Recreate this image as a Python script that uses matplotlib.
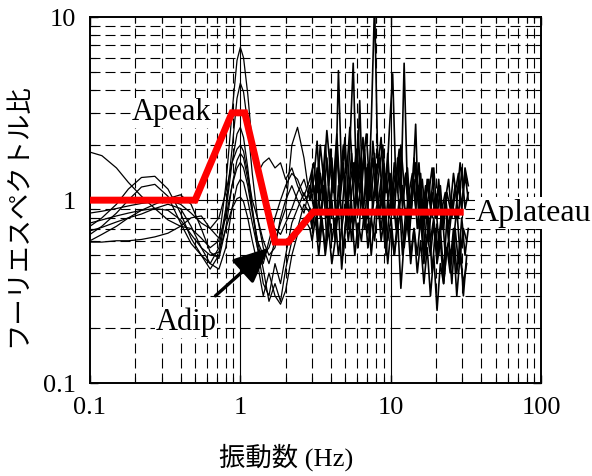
import numpy as np
import matplotlib
matplotlib.use("Agg")
import matplotlib.pyplot as plt
from matplotlib.ticker import FixedLocator, NullFormatter

plt.rcParams.update({
    "font.family": ["Liberation Serif", "Noto Sans CJK JP"],
    "font.size": 16,
})

# ── data ─────────────────────────────────────────────────────────────────────
freq_low = [0.10, 0.12, 0.15, 0.18, 0.22, 0.27, 0.33, 0.40, 0.47, 0.55,
            0.63, 0.72, 0.80, 0.88, 0.95, 1.00, 1.05, 1.12, 1.20, 1.30,
            1.42, 1.55, 1.70, 1.85, 2.00, 2.20, 2.40, 2.65, 2.90]
freq_high_a = [3.00, 3.16, 3.32, 3.49, 3.67, 3.86, 4.06, 4.27, 4.49, 4.72,
               4.96, 5.22, 5.49, 5.77, 6.07, 6.38, 6.71, 7.06, 7.42, 7.81,
               8.21, 8.63, 9.08, 9.55, 10.04, 10.56, 11.11, 11.68, 12.28, 12.92,
               13.58, 14.29, 15.02, 15.80, 16.62, 17.48, 18.38, 19.33, 20.33, 21.38,
               22.48, 23.65, 24.87, 26.15, 27.50, 28.93, 30.42, 32.0]
freq_high_b = [3.08, 3.24, 3.40, 3.58, 3.76, 3.96, 4.16, 4.38, 4.60, 4.84,
               5.09, 5.35, 5.63, 5.92, 6.22, 6.54, 6.88, 7.24, 7.61, 8.01,
               8.42, 8.85, 9.31, 9.79, 10.30, 10.83, 11.39, 11.98, 12.60, 13.25,
               13.93, 14.65, 15.41, 16.21, 17.05, 17.93, 18.85, 19.83, 20.85, 21.93,
               23.06, 24.25, 25.50, 26.82, 28.21, 29.67, 31.20, 32.8]

ratio_low = [
    [1.83, 1.75, 1.5, 1.25, 1.05, 0.9, 0.78, 0.72, 0.7, 0.62, 0.55, 0.6, 1.2, 3.0, 5.8,
     6.85, 6.0, 3.8, 2.0, 1.4, 1.6, 1.7, 1.5, 1.6, 1.3, 1.5, 1.2, 1.0, 1.1],
    [0.72, 0.8, 0.95, 1.15, 1.33, 1.35, 1.15, 0.85, 0.62, 0.5, 0.45, 0.55, 0.9, 1.9, 3.6,
     4.36, 3.9, 2.6, 1.4, 0.8, 0.55, 0.45, 0.6, 0.75, 0.9, 2.0, 2.5, 1.7, 1.0],
    [0.65, 0.72, 0.85, 1.0, 1.18, 1.22, 1.05, 0.75, 0.58, 0.5, 0.42, 0.5, 0.85, 1.6, 2.3,
     2.5, 2.2, 1.5, 0.9, 0.55, 0.35, 0.3, 0.45, 0.35, 0.5, 0.75, 0.9, 1.1, 0.9],
    [0.85, 0.87, 0.9, 0.93, 0.96, 0.98, 1.0, 0.95, 0.85, 0.75, 0.7, 0.8, 1.1, 1.6, 1.9,
     2.0, 1.85, 1.4, 1.0, 0.8, 0.6, 0.5, 0.55, 0.8, 1.0, 1.2, 1.0, 0.85, 1.2],
    [0.6, 0.65, 0.72, 0.8, 0.88, 0.95, 1.02, 1.07, 0.95, 0.7, 0.52, 0.48, 0.7, 1.2, 1.65,
     1.8, 1.7, 1.3, 0.9, 0.6, 0.42, 0.28, 0.35, 0.28, 0.42, 0.6, 0.7, 0.95, 0.85],
    [0.59, 0.59, 0.6, 0.6, 0.61, 0.63, 0.66, 0.72, 0.8, 0.82, 0.7, 0.62, 0.8, 1.2, 1.5,
     1.61, 1.5, 1.2, 0.85, 0.6, 0.5, 0.55, 0.7, 0.65, 0.75, 0.9, 1.1, 1.3, 1.0],
    [0.75, 0.78, 0.82, 0.85, 0.88, 0.9, 0.88, 0.78, 0.65, 0.55, 0.5, 0.52, 0.7, 0.9, 1.02,
     1.04, 0.98, 0.8, 0.6, 0.45, 0.3, 0.4, 0.3, 0.27, 0.32, 0.5, 0.65, 0.8, 0.7],
    [0.68, 0.71, 0.76, 0.8, 0.84, 0.9, 0.95, 0.9, 0.72, 0.55, 0.45, 0.42, 0.55, 0.9, 1.2,
     1.3, 1.25, 1.0, 0.75, 0.55, 0.45, 0.6, 0.8, 1.0, 1.2, 1.4, 1.3, 1.05, 1.3],
]
ratio_high = [
    [1.4, 0.9, 1.6, 1.1, 2.0, 1.2, 1.7, 0.9, 5.1, 1.3, 2.2, 1.0, 1.8, 0.8, 2.4, 1.1,
     1.9, 0.9, 2.6, 12.0, 1.5, 2.2, 1.0, 1.8, 0.9, 1.6, 1.1, 2.0, 1.2, 1.5, 0.8, 1.7,
     1.0, 1.4, 0.7, 1.3, 0.9, 1.5, 0.8, 1.2, 0.7, 1.1, 0.9, 1.4, 1.0, 1.6, 1.2, 1.3],
    [1.3, 2.1, 1.0, 1.5, 0.8, 1.9, 1.2, 2.3, 1.1, 1.6, 0.9, 2.0, 5.6, 1.2, 1.7, 0.8,
     1.5, 1.0, 2.1, 1.3, 0.8, 1.6, 1.1, 2.4, 4.9, 1.2, 1.8, 0.9, 1.4, 0.7, 1.3, 1.0,
     1.6, 0.8, 1.2, 0.6, 1.1, 0.8, 1.3, 0.7, 1.0, 0.6, 0.9, 1.2, 0.8, 1.5, 0.9, 1.1],
    [0.7, 1.1, 0.6, 0.9, 1.3, 0.7, 1.0, 0.6, 1.2, 0.8, 1.4, 0.7, 1.1, 1.6, 0.9, 1.3,
     0.7, 1.5, 1.0, 1.8, 0.9, 1.3, 0.6, 1.0, 1.4, 0.8, 1.7, 1.0, 5.6, 1.1, 0.8, 1.3,
     0.7, 1.0, 0.5, 0.9, 0.6, 0.8, 0.5, 0.7, 0.4, 0.8, 0.5, 0.6, 0.9, 0.5, 0.7, 0.6],
    [0.9, 1.5, 0.8, 1.2, 0.6, 1.0, 1.4, 0.8, 1.1, 0.5, 0.9, 1.3, 0.7, 1.0, 3.5, 0.9,
     1.2, 0.6, 1.0, 1.4, 0.8, 1.1, 0.5, 0.9, 1.2, 0.7, 1.0, 0.5, 0.9, 0.6, 1.1, 2.6,
     0.7, 0.9, 0.5, 0.8, 0.4, 0.7, 0.5, 0.9, 0.5, 0.6, 0.35, 0.7, 0.45, 0.8, 0.5, 0.7],
    [0.7, 0.9, 0.6, 0.8, 0.5, 0.7, 0.45, 0.6, 0.9, 0.42, 0.7, 1.0, 0.6, 0.9, 0.55, 1.1,
     0.7, 0.9, 0.5, 0.8, 1.0, 0.6, 0.8, 0.45, 0.7, 0.5, 0.8, 0.33, 0.6, 0.9, 0.5, 0.7,
     0.4, 0.6, 0.35, 0.55, 0.3, 0.5, 0.25, 0.45, 0.35, 0.55, 0.4, 0.6, 0.3, 0.5, 0.35, 0.45],
    [1.2, 0.8, 1.4, 1.0, 1.7, 0.9, 1.3, 1.9, 1.0, 1.5, 0.8, 1.2, 1.6, 1.0, 1.4, 2.2,
     1.1, 1.6, 0.9, 1.3, 1.7, 1.0, 1.4, 0.8, 1.1, 1.5, 0.9, 1.2, 0.8, 1.1, 1.4, 0.9,
     1.2, 0.7, 1.0, 1.3, 0.8, 1.0, 0.6, 0.9, 1.1, 0.7, 1.0, 0.8, 1.2, 0.9, 1.4, 1.0],
    [0.6, 0.8, 0.5, 0.75, 0.55, 0.9, 0.6, 0.8, 0.5, 0.7, 0.95, 0.6, 0.85, 0.5, 0.75, 0.6,
     0.9, 0.55, 0.8, 0.6, 0.95, 0.7, 1.0, 0.6, 0.8, 0.5, 0.7, 0.9, 0.55, 0.8, 0.45, 0.7,
     0.5, 0.8, 0.45, 0.65, 0.5, 0.75, 0.45, 0.6, 0.35, 0.55, 0.45, 0.7, 0.4, 0.6, 0.3, 0.5],
    [1.6, 1.1, 2.0, 1.3, 2.4, 1.5, 1.1, 1.8, 1.2, 2.0, 1.4, 2.5, 1.3, 1.9, 1.1, 1.6,
     2.3, 1.2, 1.7, 1.0, 1.5, 2.0, 1.1, 1.4, 0.9, 1.3, 1.9, 1.0, 1.4, 0.9, 1.2, 1.6,
     0.9, 1.3, 0.8, 1.1, 1.5, 0.8, 1.2, 0.7, 1.0, 1.3, 0.8, 1.1, 1.4, 0.9, 1.5, 1.2],
]

# simplified model (red)
model_f = [0.1, 0.5, 0.88, 1.07, 1.70, 2.08, 3.05, 29.0]
model_a = [1.0, 1.0, 3.0, 3.0, 0.59, 0.59, 0.86, 0.86]

# ── figure ───────────────────────────────────────────────────────────────────
fig = plt.figure(figsize=(5.92, 4.76), dpi=100)
ax = fig.add_axes([0.152, 0.195, 0.762, 0.769])
ax.set_xscale("log"); ax.set_yscale("log")
ax.set_xlim(0.1, 100); ax.set_ylim(0.1, 10)

# grid: dashed at minors, solid at majors
dash = (0, (9, 4.5))
for d in [0.1, 1, 10]:
    for k in range(2, 10):
        ax.axvline(d * k, color="black", lw=0.8, ls=dash, zorder=1)
for d in [0.1, 1]:
    for k in range(2, 10):
        ax.axhline(d * k, color="black", lw=0.8, ls=dash, zorder=1)
for v in [1, 10]:
    ax.axvline(v, color="black", lw=0.8, zorder=1)
ax.axhline(1, color="black", lw=0.8, zorder=1)

for i, (lo, hi) in enumerate(zip(ratio_low, ratio_high)):
    fh = freq_high_a if i % 2 == 0 else freq_high_b
    ax.plot(freq_low, lo, color="black", lw=0.9, zorder=2)
    # noisy part looks heavier in the original
    ax.plot(freq_low[-1:] + fh, lo[-1:] + hi, color="black", lw=1.2, zorder=2)

ax.plot(model_f, model_a, color="#ff0000", lw=5, solid_joinstyle="miter", zorder=3)

# ticks
ax.xaxis.set_major_locator(FixedLocator([0.1, 1, 10, 100]))
ax.yaxis.set_major_locator(FixedLocator([0.1, 1, 10]))
ax.set_xticklabels(["0.1", "1", "10", "100"])
ax.set_yticklabels(["0.1", "1", "10"])
ax.yaxis.set_minor_formatter(NullFormatter())
ax.xaxis.set_minor_formatter(NullFormatter())
ax.tick_params(which="both", direction="in", top=True, right=True, labelsize=19)
ax.tick_params(which="major", length=6, width=1, pad=10)
ax.tick_params(which="minor", length=4, width=0.8)
for s in ax.spines.values():
    s.set_linewidth(1.4)

ax.set_xlabel("振動数 (Hz)", fontsize=19)
ax.set_ylabel("フーリエスペクトル比", fontsize=19, family="Noto Sans CJK JP")
ax.xaxis.set_label_coords(0.435, -0.165)
ax.yaxis.set_label_coords(-0.13, 0.46)

# annotations
ax.text(0.35, 3.0, "Apeak", fontsize=22, ha="center", va="center", zorder=4,
        bbox=dict(fc="white", ec="none", pad=0.5))
ax.annotate("Adip", xy=(1.55, 0.55), xytext=(0.435, 0.215), fontsize=22,
            ha="center", va="center", zorder=4,
            bbox=dict(fc="white", ec="none", pad=0.5),
            arrowprops=dict(arrowstyle="-|>,head_length=1.0,head_width=0.45",
                            color="black", lw=2.4, shrinkA=12, shrinkB=0))
ax.text(37, 0.85, "Aplateau", fontsize=23, ha="left", va="center", zorder=4,
        clip_on=False, bbox=dict(fc="white", ec="none", pad=1.0))

fig.savefig("out.png", dpi=100)
